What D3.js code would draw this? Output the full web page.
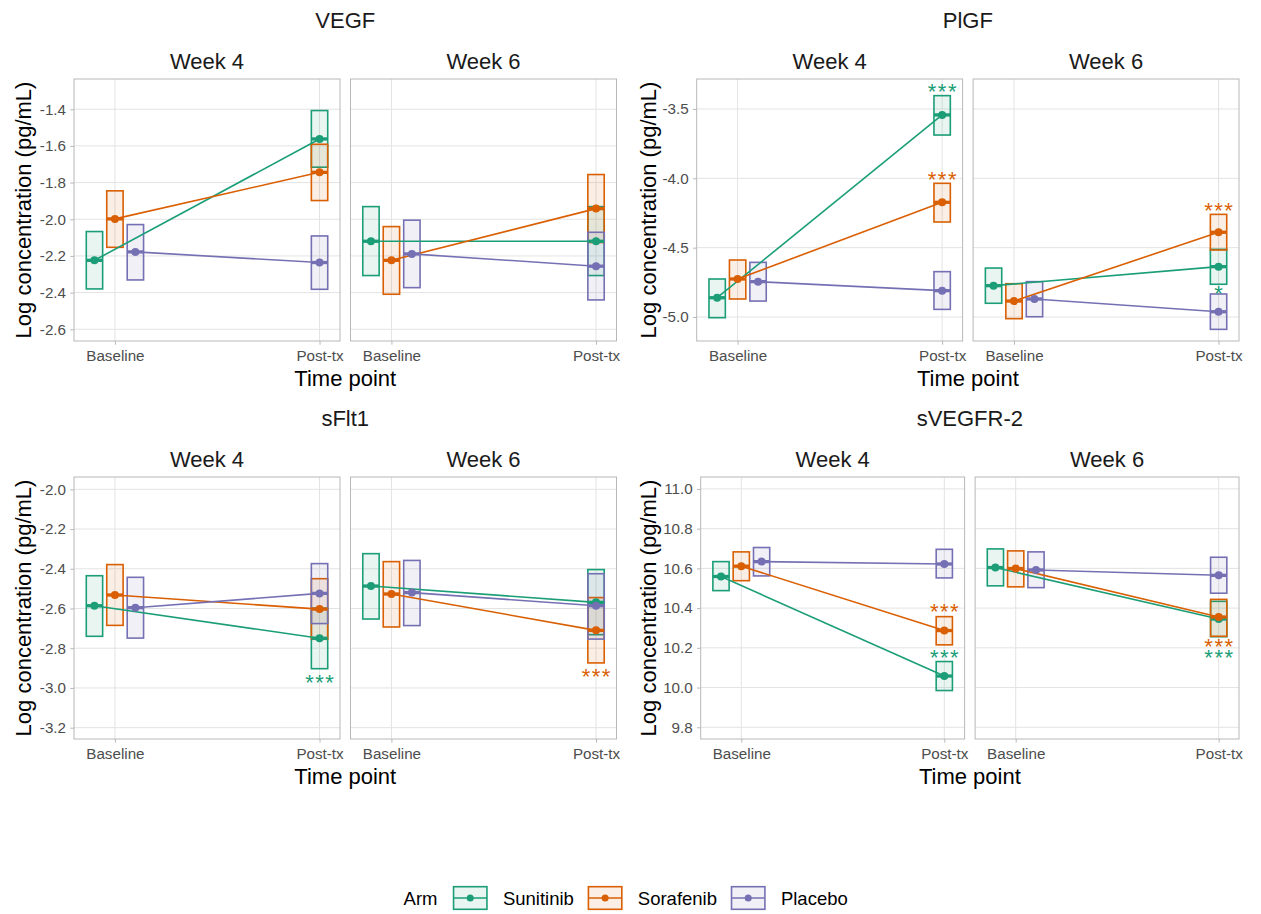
<!DOCTYPE html>
<html>
<head>
<meta charset="utf-8">
<script src="https://cdn.jsdelivr.net/npm/d3@7"></script>
<style>
  body { margin: 0; background: #fff; }
  svg { display: block; font-family: "Liberation Sans", Arial, sans-serif; }
</style>
</head>
<body>
<script>
// categories
const markers = ["VEGF", "PlGF", "sFlt1", "sVEGFR-2"];
const weeks = ["Week 4", "Week 6"];
const timePoints = ["Baseline", "Post-tx"];
const arms = ["Sunitinib", "Sorafenib", "Placebo"];
const armColors = ["#1B9E77", "#D95F02", "#7570B3"];

// week, arm, time point, mean, lower, upper
const vegf = [
    ["Week 4", "Sunitinib", "Baseline", -2.224, -2.380, -2.067],
    ["Week 4", "Sunitinib", "Post-tx", -1.562, -1.716, -1.407],
    ["Week 4", "Sorafenib", "Baseline", -1.998, -2.153, -1.845],
    ["Week 4", "Sorafenib", "Post-tx", -1.744, -1.898, -1.591],
    ["Week 4", "Placebo", "Baseline", -2.178, -2.331, -2.029],
    ["Week 4", "Placebo", "Post-tx", -2.236, -2.382, -2.091],
    ["Week 6", "Sunitinib", "Baseline", -2.120, -2.307, -1.931],
    ["Week 6", "Sunitinib", "Post-tx", -2.120, -2.307, -1.931],
    ["Week 6", "Sorafenib", "Baseline", -2.224, -2.409, -2.040],
    ["Week 6", "Sorafenib", "Post-tx", -1.942, -2.127, -1.756],
    ["Week 6", "Placebo", "Baseline", -2.189, -2.373, -2.005],
    ["Week 6", "Placebo", "Post-tx", -2.256, -2.440, -2.071]
];

const plgf = [
    ["Week 4", "Sunitinib", "Baseline", -4.861, -5.005, -4.726],
    ["Week 4", "Sunitinib", "Post-tx", -3.543, -3.688, -3.404],
    ["Week 4", "Sorafenib", "Baseline", -4.726, -4.870, -4.589],
    ["Week 4", "Sorafenib", "Post-tx", -4.173, -4.315, -4.036],
    ["Week 4", "Placebo", "Baseline", -4.745, -4.885, -4.606],
    ["Week 4", "Placebo", "Post-tx", -4.810, -4.945, -4.673],
    ["Week 6", "Sunitinib", "Baseline", -4.774, -4.901, -4.647],
    ["Week 6", "Sunitinib", "Post-tx", -4.637, -4.764, -4.512],
    ["Week 6", "Sorafenib", "Baseline", -4.885, -5.012, -4.760],
    ["Week 6", "Sorafenib", "Post-tx", -4.389, -4.517, -4.260],
    ["Week 6", "Placebo", "Baseline", -4.870, -4.998, -4.745],
    ["Week 6", "Placebo", "Post-tx", -4.962, -5.089, -4.834]
];

const sflt1 = [
    ["Week 4", "Sunitinib", "Baseline", -2.586, -2.740, -2.435],
    ["Week 4", "Sunitinib", "Post-tx", -2.750, -2.903, -2.598],
    ["Week 4", "Sorafenib", "Baseline", -2.532, -2.685, -2.379],
    ["Week 4", "Sorafenib", "Post-tx", -2.603, -2.755, -2.450],
    ["Week 4", "Placebo", "Baseline", -2.596, -2.749, -2.443],
    ["Week 4", "Placebo", "Post-tx", -2.524, -2.676, -2.374],
    ["Week 6", "Sunitinib", "Baseline", -2.487, -2.653, -2.324],
    ["Week 6", "Sunitinib", "Post-tx", -2.569, -2.732, -2.404],
    ["Week 6", "Sorafenib", "Baseline", -2.527, -2.693, -2.364],
    ["Week 6", "Sorafenib", "Post-tx", -2.710, -2.874, -2.545],
    ["Week 6", "Placebo", "Baseline", -2.520, -2.686, -2.358],
    ["Week 6", "Placebo", "Post-tx", -2.586, -2.754, -2.425]
];

const svegfr2 = [
    ["Week 4", "Sunitinib", "Baseline", 10.559, 10.488, 10.634],
    ["Week 4", "Sunitinib", "Post-tx", 10.058, 9.985, 10.131],
    ["Week 4", "Sorafenib", "Baseline", 10.611, 10.538, 10.683],
    ["Week 4", "Sorafenib", "Post-tx", 10.287, 10.215, 10.357],
    ["Week 4", "Placebo", "Baseline", 10.634, 10.562, 10.705],
    ["Week 4", "Placebo", "Post-tx", 10.622, 10.552, 10.696],
    ["Week 6", "Sunitinib", "Baseline", 10.604, 10.512, 10.698],
    ["Week 6", "Sunitinib", "Post-tx", 10.345, 10.256, 10.434],
    ["Week 6", "Sorafenib", "Baseline", 10.599, 10.507, 10.688],
    ["Week 6", "Sorafenib", "Post-tx", 10.355, 10.258, 10.444],
    ["Week 6", "Placebo", "Baseline", 10.592, 10.503, 10.683],
    ["Week 6", "Placebo", "Post-tx", 10.565, 10.475, 10.656]
];

// significance labels: marker, week, arm, label, y position (data units)
const stars = [
    ["PlGF", "Week 4", "Sunitinib", "***", -3.334],
    ["PlGF", "Week 4", "Sorafenib", "***", -3.971],
    ["PlGF", "Week 6", "Sorafenib", "***", -4.193],
    ["PlGF", "Week 6", "Sunitinib", "*", -4.793],
    ["sFlt1", "Week 4", "Sunitinib", "***", -2.945],
    ["sFlt1", "Week 6", "Sorafenib", "***", -2.915],
    ["sVEGFR-2", "Week 4", "Sorafenib", "***", 10.407],
    ["sVEGFR-2", "Week 4", "Sunitinib", "***", 10.175],
    ["sVEGFR-2", "Week 6", "Sorafenib", "***", 10.231],
    ["sVEGFR-2", "Week 6", "Sunitinib", "***", 10.177]
];

// y axis domains and ticks
const vegfDomain = [-2.664, -1.235];
const plgfDomain = [-5.173, -3.284];
const sflt1Domain = [-3.257, -1.938];
const svegfr2Domain = [9.741, 11.06];
const vegfTicks = [-2.6, -2.4, -2.2, -2.0, -1.8, -1.6, -1.4];
const plgfTicks = [-5.0, -4.5, -4.0, -3.5];
const sflt1Ticks = [-3.2, -3.0, -2.8, -2.6, -2.4, -2.2, -2.0];
const svegfr2Ticks = [9.8, 10.0, 10.2, 10.4, 10.6, 10.8, 11.0];

const dataByMarker = { "VEGF": vegf, "PlGF": plgf, "sFlt1": sflt1, "sVEGFR-2": svegfr2 };

// layout of the four facet groups
const groups = [
    { marker: "VEGF", domain: vegfDomain, ticks: vegfTicks, left: 74, right: 616.5, top: 79, bottom: 341, yTitleX: 31 },
    { marker: "PlGF", domain: plgfDomain, ticks: plgfTicks, left: 696.7, right: 1239, top: 79, bottom: 341, yTitleX: 656 },
    { marker: "sFlt1", domain: sflt1Domain, ticks: sflt1Ticks, left: 74, right: 616.5, top: 477, bottom: 739, yTitleX: 31 },
    { marker: "sVEGFR-2", domain: svegfr2Domain, ticks: svegfr2Ticks, left: 700.7, right: 1239, top: 477, bottom: 739, yTitleX: 656 }
];

const panelGap = 10.5;
const dodge = [-0.1, 0, 0.1];
const halfWidth = 0.04;
const gridColor = "#E3E3E3";
const borderColor = "#B8B8B8";
const tickTextColor = "#4D4D4D";
const starSize = 22;
const fmt = d => d3.format(".1f")(d).replace("\u2212", "-");

const svg = d3.select("body").append("svg")
    .attr("width", 1261)
    .attr("height", 914);

function xPos(time, arm) {
    const t = timePoints.indexOf(time);
    return t + (t === 0 ? dodge[arms.indexOf(arm)] : 0);
}

groups.forEach(g => {
    const rows = dataByMarker[g.marker].map(r => ({
        week: r[0], arm: r[1], time: r[2], mean: r[3], lower: r[4], upper: r[5]
    }));
    const pw = (g.right - g.left - panelGap) / 2;
    const y = d3.scaleLinear().domain(g.domain).range([g.bottom, g.top]);

    // facet title
    svg.append("text")
        .attr("x", (g.left + g.right) / 2)
        .attr("y", g.top - 51)
        .attr("text-anchor", "middle")
        .attr("font-size", 22)
        .attr("fill", "#1a1a1a")
        .text(g.marker);

    // axis titles
    svg.append("text")
        .attr("x", (g.left + g.right) / 2)
        .attr("y", g.bottom + 45)
        .attr("text-anchor", "middle")
        .attr("font-size", 22)
        .attr("fill", "#000")
        .text("Time point");

    svg.append("text")
        .attr("transform", `translate(${g.yTitleX}, ${(g.top + g.bottom) / 2}) rotate(-90)`)
        .attr("text-anchor", "middle")
        .attr("font-size", 22)
        .attr("fill", "#000")
        .text("Log concentration (pg/mL)");

    weeks.forEach((week, wi) => {
        const pl = g.left + wi * (pw + panelGap);
        const x = d3.scaleLinear().domain([-0.2, 1.1]).range([pl, pl + pw]);
        const panel = svg.append("g");
        const wRows = rows.filter(r => r.week === week);

        // strip label
        svg.append("text")
            .attr("x", pl + pw / 2)
            .attr("y", g.top - 10.3)
            .attr("text-anchor", "middle")
            .attr("font-size", 22)
            .attr("fill", "#1a1a1a")
            .text(week);

        // grid
        panel.selectAll(".hgrid")
            .data(g.ticks)
            .enter()
            .append("line")
            .attr("x1", pl).attr("x2", pl + pw)
            .attr("y1", d => y(d)).attr("y2", d => y(d))
            .attr("stroke", gridColor)
            .attr("stroke-width", 1);

        panel.selectAll(".vgrid")
            .data([0, 1])
            .enter()
            .append("line")
            .attr("x1", d => x(d)).attr("x2", d => x(d))
            .attr("y1", g.top).attr("y2", g.bottom)
            .attr("stroke", gridColor)
            .attr("stroke-width", 1);

        // axes
        const xAxis = d3.axisBottom(x)
            .tickValues([0, 1])
            .tickSize(3.7)
            .tickPadding(5.6)
            .tickFormat(d => timePoints[d]);

        const xg = panel.append("g")
            .attr("transform", `translate(0, ${g.bottom})`)
            .call(xAxis);
        xg.select(".domain").remove();
        xg.selectAll("line").attr("stroke", borderColor);
        xg.selectAll("text")
            .attr("font-size", 15.2)
            .attr("font-family", "Liberation Sans, Arial, sans-serif")
            .attr("fill", tickTextColor);

        if (wi === 0) {
            const yAxis = d3.axisLeft(y)
                .tickValues(g.ticks)
                .tickSize(3.7)
                .tickPadding(4.3)
                .tickFormat(fmt);
            const yg = panel.append("g")
                .attr("transform", `translate(${pl}, 0)`)
                .call(yAxis);
            yg.select(".domain").remove();
            yg.selectAll("line").attr("stroke", borderColor);
            yg.selectAll("text")
                .attr("font-size", 15.2)
                .attr("font-family", "Liberation Sans, Arial, sans-serif")
                .attr("fill", tickTextColor);
        }

        // boxes (confidence intervals)
        panel.selectAll(".box")
            .data(wRows)
            .enter()
            .append("rect")
            .attr("x", d => x(xPos(d.time, d.arm) - halfWidth))
            .attr("width", d => x(xPos(d.time, d.arm) + halfWidth) - x(xPos(d.time, d.arm) - halfWidth))
            .attr("y", d => y(d.upper))
            .attr("height", d => y(d.lower) - y(d.upper))
            .attr("fill", d => armColors[arms.indexOf(d.arm)])
            .attr("fill-opacity", 0.1)
            .attr("stroke", d => armColors[arms.indexOf(d.arm)])
            .attr("stroke-width", 1.6);

        // connecting lines
        const line = d3.line()
            .x(d => x(xPos(d.time, d.arm)))
            .y(d => y(d.mean));

        arms.forEach((arm, ai) => {
            const armRows = wRows.filter(r => r.arm === arm);
            panel.append("path")
                .datum(armRows)
                .attr("d", line)
                .attr("fill", "none")
                .attr("stroke", armColors[ai])
                .attr("stroke-width", 1.6);
        });

        // mean bars
        panel.selectAll(".meanbar")
            .data(wRows)
            .enter()
            .append("line")
            .attr("x1", d => x(xPos(d.time, d.arm) - halfWidth))
            .attr("x2", d => x(xPos(d.time, d.arm) + halfWidth))
            .attr("y1", d => y(d.mean))
            .attr("y2", d => y(d.mean))
            .attr("stroke", d => armColors[arms.indexOf(d.arm)])
            .attr("stroke-width", 3.3);

        // mean points
        panel.selectAll(".pt")
            .data(wRows)
            .enter()
            .append("circle")
            .attr("cx", d => x(xPos(d.time, d.arm)))
            .attr("cy", d => y(d.mean))
            .attr("r", 4)
            .attr("fill", d => armColors[arms.indexOf(d.arm)]);

        // significance stars
        const starRows = stars.filter(s => s[0] === g.marker && s[1] === week);
        panel.selectAll(".star")
            .data(starRows)
            .enter()
            .append("text")
            .attr("x", d => x(xPos("Post-tx", d[2])) + 0.75)
            .attr("y", d => y(d[4]) + starSize * 0.573)
            .attr("text-anchor", "middle")
            .attr("font-size", starSize)
            .attr("letter-spacing", 1.5)
            .attr("fill", d => armColors[arms.indexOf(d[2])])
            .text(d => d[3]);

        // panel border
        panel.append("rect")
            .attr("x", pl)
            .attr("y", g.top)
            .attr("width", pw)
            .attr("height", g.bottom - g.top)
            .attr("fill", "none")
            .attr("stroke", borderColor)
            .attr("stroke-width", 1);
    });
});

// legend
const legend = svg.append("g");
const legendY = 898;
const keyW = 33.4;
const keyH = 22.6;
let lx = 0;

const armTitle = legend.append("text")
    .attr("x", lx)
    .attr("y", legendY + 6.6)
    .attr("font-size", 18.5)
    .attr("fill", "#000")
    .text("Arm");
lx += armTitle.node().getComputedTextLength() + 16;

arms.forEach((arm, ai) => {
    legend.append("rect")
        .attr("x", lx)
        .attr("y", legendY - keyH / 2)
        .attr("width", keyW)
        .attr("height", keyH)
        .attr("fill", armColors[ai])
        .attr("fill-opacity", 0.1)
        .attr("stroke", armColors[ai])
        .attr("stroke-width", 1.6);
    legend.append("line")
        .attr("x1", lx).attr("x2", lx + keyW)
        .attr("y1", legendY).attr("y2", legendY)
        .attr("stroke", armColors[ai])
        .attr("stroke-width", 1.6);
    legend.append("circle")
        .attr("cx", lx + keyW / 2)
        .attr("cy", legendY)
        .attr("r", 3.5)
        .attr("fill", armColors[ai]);
    lx += keyW + 16;
    const t = legend.append("text")
        .attr("x", lx)
        .attr("y", legendY + 6.6)
        .attr("font-size", 18.5)
        .attr("fill", "#000")
        .text(arm);
    lx += t.node().getComputedTextLength();
    if (ai < arms.length - 1) lx += 14.5;
});

legend.attr("transform", `translate(${625.7 - lx / 2}, 0)`);
</script>
</body>
</html>
